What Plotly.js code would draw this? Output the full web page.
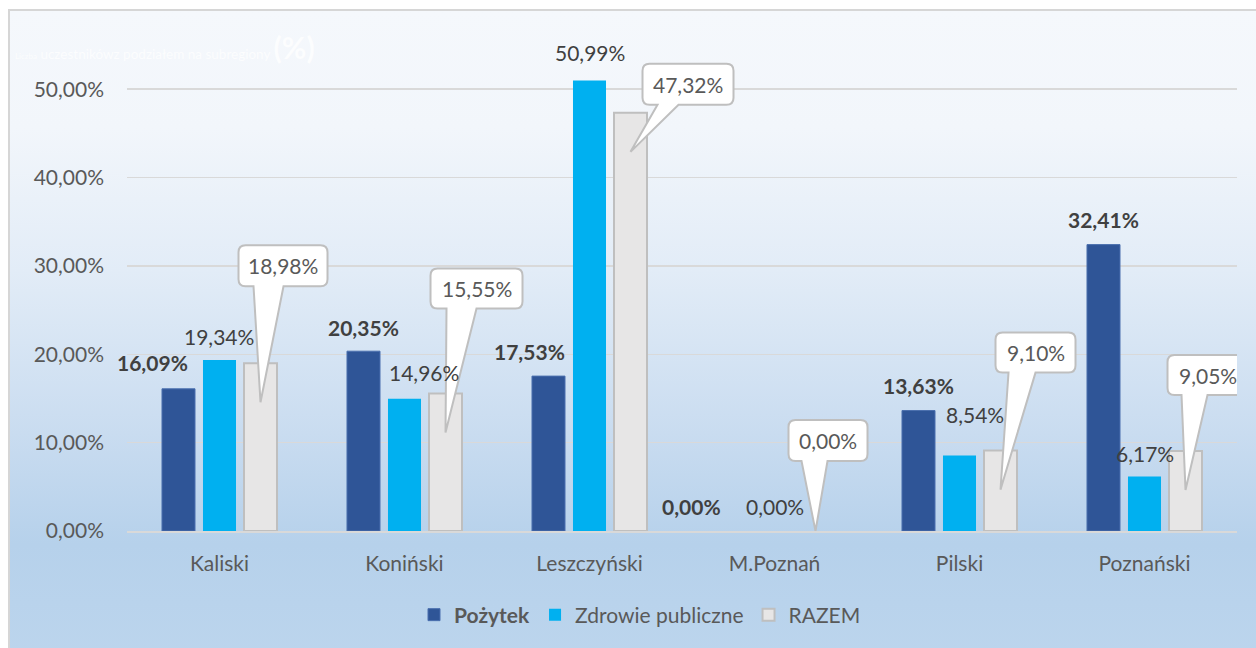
<!DOCTYPE html>
<html>
<head>
<meta charset="utf-8">
<script src="https://cdn.plot.ly/plotly-3.0.1.min.js"></script>
<style>
  html, body { margin:0; padding:0; background:#ffffff; }
  #wrap { position:relative; width:1256px; height:648px; overflow:hidden; background:#ffffff; }
  #frame { position:absolute; left:8px; top:9px; width:1260px; height:650px;
    border-left:2px solid #d6d6d6; border-top:2px solid #d6d6d6;
    background: linear-gradient(to bottom, #f5f8fc 0%, #f2f6fb 18%, #e2ecf7 40%, #c9dcf0 65%, #b6d1eb 82%, #bcd5ed 100%); }
  #chart { position:absolute; left:0; top:0; width:1256px; height:648px; }
</style>
</head>
<body>
<div id="wrap">
  <div id="frame"></div>
  <div id="chart"></div>
</div>
<script>
// ---- data ----
const categories = ['Kaliski', 'Koniński', 'Leszczyński', 'M.Poznań', 'Pilski', 'Poznański'];
const pozytek = [16.09, 20.35, 17.53, 0.00, 13.63, 32.41];
const zdrowie = [19.34, 14.96, 50.99, 0.00, 8.54, 6.17];
const razem   = [18.98, 15.55, 47.32, 0.00, 9.10, 9.05];
const seriesNames = ['<b>Pożytek</b>', 'Zdrowie publiczne', 'RAZEM'];
const yTickVals = [0, 10, 20, 30, 40, 50];

// ---- label styling (pixel offsets) ----
const pozLabelShift = [[-26, 26], [0, 24], [-19, 25], [-42, 25], [0, 25], [0, 25]];
const zdrLabelShift = [[-1, 24], [19, 26], [0, 28], [0, 25], [15, 41], [0, 23]];
// callout box geometry relative to tip: [left, right, top, bottom, wedgeLeft, wedgeRight]
const calloutGeom = [
  [-22, 67, 157, 116, -7, 23],
  [-15, 77, 164, 124, 1, 31],
  [12, 103, 88, 47, 27, 48],
  [-27, 52, 111, 70, -14, 12],
  [-5, 75, 157, 117, 8, 35],
  [-18, 62, 135, 95, -4, 22]
];

const fmt = v => v.toFixed(2).replace('.', ',') + '%';
const FONT = 'Lato, "Open Sans", sans-serif';
const bargap = 0.335;
const slot = (1 - bargap) / 3;
const lineW = (vals, w) => vals.map(v => v > 0 ? w : 0);

const traces = [
  { type:'bar', name: seriesNames[0], x: categories, y: pozytek,
    marker:{ color:'#2f5597', line:{ color:'#4a6fae', width: lineW(pozytek, 1) } }, hoverinfo:'none' },
  { type:'bar', name: seriesNames[1], x: categories, y: zdrowie,
    marker:{ color:'#00b0f0', line:{ width:0 } }, hoverinfo:'none' },
  { type:'bar', name: seriesNames[2], x: categories, y: razem,
    marker:{ color:'#e7e6e6', line:{ color:'#bfbfbf', width: lineW(razem, 2) } }, hoverinfo:'none' }
];

const annotations = [];
const shapes = [];

categories.forEach((c, i) => {
  annotations.push({
    xref:'x', yref:'y', x: i - slot, y: pozytek[i], showarrow:false,
    xshift: pozLabelShift[i][0], yshift: pozLabelShift[i][1],
    text: '<b>' + fmt(pozytek[i]) + '</b>',
    font:{ family: FONT, size:21, color:'#404040' }
  });
  annotations.push({
    xref:'x', yref:'y', x: i, y: zdrowie[i], showarrow:false,
    xshift: zdrLabelShift[i][0], yshift: zdrLabelShift[i][1],
    text: fmt(zdrowie[i]),
    font:{ family: FONT, size:21, color:'#404040' }
  });
  const g = calloutGeom[i];
  const ty = razem[i] > 0 ? -39 : 0;
  const L = g[0], R = g[1], T = ty + g[2], B = ty + g[3], wl = g[4], wr = g[5];
  const r = 7;
  const path = `M${wl},${B} L0,${ty} L${wr},${B} L${R - r},${B} Q${R},${B} ${R},${B + r} ` +
               `L${R},${T - r} Q${R},${T} ${R - r},${T} L${L + r},${T} Q${L},${T} ${L},${T - r} ` +
               `L${L},${B + r} Q${L},${B} ${L + r},${B} Z`;
  shapes.push({
    type:'path', layer:'above', xref:'x', yref:'y',
    xsizemode:'pixel', ysizemode:'pixel', xanchor: i + slot, yanchor: razem[i],
    path: path, fillcolor:'#ffffff', line:{ color:'#bfbfbf', width:2 }
  });
  annotations.push({
    xref:'x', yref:'y', x: i + slot, y: razem[i], showarrow:false,
    xshift: (L + R) / 2, yshift: (T + B) / 2,
    text: fmt(razem[i]),
    font:{ family: FONT, size:21, color:'#595959' }
  });
});

const layout = {
  width:1256, height:648,
  paper_bgcolor:'rgba(0,0,0,0)', plot_bgcolor:'rgba(0,0,0,0)',
  margin:{ l:127, r:19, t:45, b:117, autoexpand:false },
  separators:', ',
  barmode:'group', bargap: bargap, bargroupgap: 0.195,
  showlegend:true,
  title:{
    text:'<span style="font-size:8px">Liczba</span> uczestnikówz podziałem na subregiony <b><span style="font-size:30px">(%)</span></b>',
    font:{ family: FONT, size:13.5, color:'rgba(255,255,255,0.75)' },
    x: 15/1256, xanchor:'left', xref:'container',
    y: 1 - 54/648, yanchor:'middle', yref:'container', automargin:false
  },
  xaxis:{
    type:'category', range:[-0.5, categories.length - 0.5], autorange:false,
    showgrid:false, zeroline:false, automargin:false,
    showline:true, linecolor:'#d9d9d9', linewidth:2,
    ticks:'', ticklabelstandoff: 13,
    tickfont:{ family: FONT, size:21, color:'#595959' }
  },
  yaxis:{
    range:[0, 55], autorange:false, tickvals: yTickVals, ticktext: yTickVals.map(fmt),
    showgrid:true, gridcolor:'#d9d9d9', gridwidth:1.5, automargin:false,
    zeroline:false, showline:false, ticks:'',
    ticklabelstandoff: 22,
    tickfont:{ family: FONT, size:21, color:'#595959' }
  },
  legend:{
    orientation:'h', xref:'container', yref:'container',
    x: 640/1256, xanchor:'center', y: 1 - 615/648, yanchor:'middle',
    itemwidth:30,
    font:{ family: FONT, size:21, color:'#595959' },
    bgcolor:'rgba(0,0,0,0)', itemclick:false, itemdoubleclick:false
  },
  annotations: annotations,
  shapes: shapes
};

Plotly.newPlot('chart', traces, layout, { displayModeBar:false, staticPlot:true });
</script>
</body>
</html>
